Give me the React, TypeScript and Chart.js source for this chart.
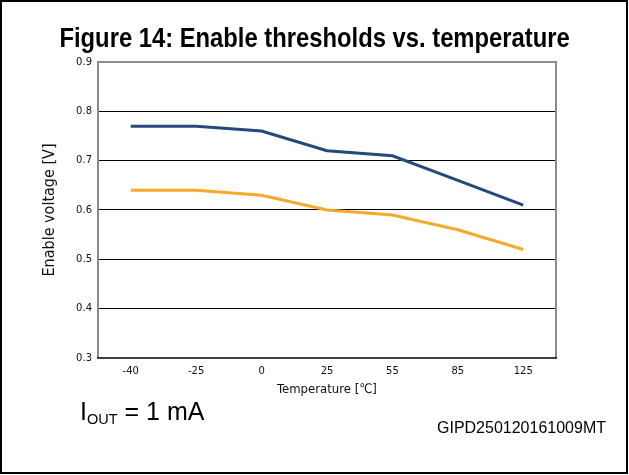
import React, { useEffect, useRef } from "react";
import { Chart, registerables } from "chart.js";

Chart.register(...registerables);

const temperatures = ["-40", "-25", "0", "25", "55", "85", "125"];
const upperThreshold = [0.77, 0.77, 0.76, 0.72, 0.71, 0.66, 0.61];
const lowerThreshold = [0.64, 0.64, 0.63, 0.6, 0.59, 0.56, 0.52];
const yMin = 0.3;
const yMax = 0.9;
const yStep = 0.1;

const framePlugin = {
  id: "plotFrame",
  afterDraw(chart: any) {
    const { ctx, chartArea } = chart;
    const { left, right, top, bottom } = chartArea;
    ctx.save();
    ctx.strokeStyle = "#8c8c8c";
    ctx.lineWidth = 2;
    ctx.beginPath();
    ctx.moveTo(left, bottom);
    ctx.lineTo(left, top);
    ctx.lineTo(right, top);
    ctx.lineTo(right, bottom);
    ctx.stroke();
    ctx.strokeStyle = "#000";
    ctx.lineWidth = 1.5;
    ctx.beginPath();
    ctx.moveTo(left - 1, bottom);
    ctx.lineTo(right + 1, bottom);
    ctx.stroke();
    ctx.restore();
  },
};

export default function App() {
  const canvasRef = useRef<HTMLCanvasElement | null>(null);

  useEffect(() => {
    document.body.style.margin = "0";
    const canvas = canvasRef.current;
    if (!canvas) return;
    const chart = new Chart(canvas, {
      type: "line",
      data: {
        labels: temperatures,
        datasets: [
          {
            label: "Upper threshold",
            data: upperThreshold,
            borderColor: "#234a7c",
            borderWidth: 3,
            pointRadius: 0,
            tension: 0,
            fill: false,
          },
          {
            label: "Lower threshold",
            data: lowerThreshold,
            borderColor: "#f9a82c",
            borderWidth: 3,
            pointRadius: 0,
            tension: 0,
            fill: false,
          },
        ],
      },
      options: {
        animation: false,
        responsive: false,
        maintainAspectRatio: false,
        layout: { padding: { top: 62, right: 73, left: 0, bottom: 0 } },
        plugins: {
          legend: { display: false },
          tooltip: { enabled: false },
          title: { display: false },
        },
        scales: {
          x: {
            type: "category",
            offset: true,
            grid: { display: false, drawTicks: false },
            border: { display: false },
            ticks: {
              padding: 7,
              color: "#111",
              font: { family: "'DejaVu Sans', Verdana, sans-serif", size: 10 },
              maxRotation: 0,
            },
            title: {
              display: true,
              text: "Temperature [℃]",
              color: "#111",
              font: { family: "'DejaVu Sans Condensed', 'DejaVu Sans', sans-serif", size: 13 },
              padding: { top: 0, bottom: 78 },
            },
            afterFit: (scale: any) => {
              scale.height = 117;
            },
          },
          y: {
            min: yMin,
            max: yMax,
            grid: {
              drawTicks: false,
              lineWidth: 1,
              color: (c: any) => {
                const v = c.tick ? c.tick.value : 0;
                return Math.abs(v - yMin) < 1e-6 || Math.abs(v - yMax) < 1e-6 ? "rgba(0,0,0,0)" : "#000";
              },
            },
            border: { display: false },
            ticks: {
              stepSize: yStep,
              padding: 6,
              color: "#111",
              font: { family: "'DejaVu Sans', Verdana, sans-serif", size: 10 },
              callback: (v: any) => Number(v).toFixed(1),
            },
            title: {
              display: true,
              text: "Enable voltage [V]",
              color: "#111",
              font: { family: "'DejaVu Sans Condensed', 'DejaVu Sans', sans-serif", size: 16 },
              padding: { top: 40, bottom: 0 },
            },
            afterFit: (scale: any) => {
              scale.width = 98;
            },
          },
        },
      },
      plugins: [framePlugin],
    });
    return () => chart.destroy();
  }, []);

  return (
    <div style={{ position: "relative", width: 629, height: 475, background: "#fff", overflow: "hidden" }}>
      <canvas ref={canvasRef} width={629} height={475} style={{ position: "absolute", left: 0, top: 0, width: 629, height: 475 }} />
      <div
        style={{
          position: "absolute",
          left: 0,
          top: 0,
          width: 628,
          height: 474,
          border: "2px solid #000",
          boxSizing: "border-box",
          pointerEvents: "none",
        }}
      />
      <div
        style={{
          position: "absolute",
          left: 0,
          top: 24,
          width: 629,
          textAlign: "center",
          fontFamily: "'Liberation Sans', Arial, sans-serif",
          fontWeight: "bold",
          fontSize: 27.5,
          lineHeight: 1,
          color: "#000",
          whiteSpace: "nowrap",
          transform: "scaleX(0.865)",
          transformOrigin: "315px 0",
        }}
      >
        Figure 14: Enable thresholds vs. temperature
      </div>
      <div
        style={{
          position: "absolute",
          left: 80,
          top: 399,
          fontFamily: "'Liberation Sans', Arial, sans-serif",
          fontSize: 25,
          lineHeight: 1,
          color: "#000",
          whiteSpace: "nowrap",
        }}
      >
        I<span style={{ fontSize: 14.5, position: "relative", top: 4 }}>OUT</span> = 1 mA
      </div>
      <div
        style={{
          position: "absolute",
          left: 437,
          top: 420,
          fontFamily: "'Liberation Sans', Arial, sans-serif",
          fontSize: 16,
          lineHeight: 1,
          color: "#000",
          whiteSpace: "nowrap",
        }}
      >
        GIPD250120161009MT
      </div>
    </div>
  );
}
